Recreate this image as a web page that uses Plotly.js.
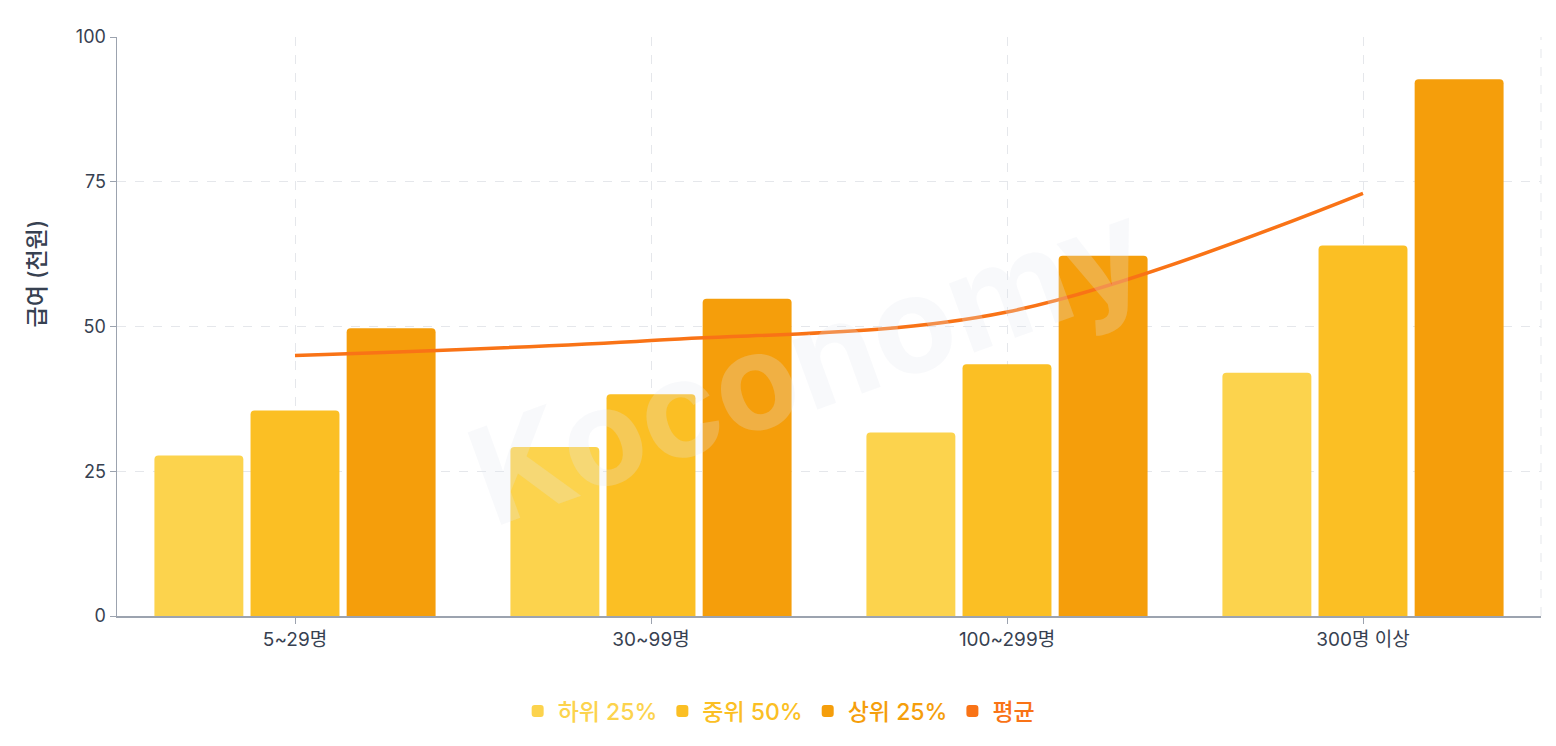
<!DOCTYPE html>
<html>
<head>
<meta charset="utf-8">
<script src="https://cdn.plot.ly/plotly-3.0.1.min.js"></script>
<style>
  html, body { margin: 0; padding: 0; background: #fff; }
  #chart { width: 1556px; height: 746px; }
</style>
</head>
<body>
<div id="chart"></div>
<script>
let chart = document.getElementById("chart");

// 사업체 규모별 급여 (천원)
const categories = ["5~29명", "30~99명", "100~299명", "300명 이상"];
const lower25 = [27.7, 29.2, 31.7, 42.0];
const median50 = [35.5, 38.3, 43.5, 64.0];
const upper25 = [49.7, 54.8, 62.2, 92.7];
const average = [45.0, 47.6, 52.5, 73.0];

const colors = {
    lower: "#FCD34D",
    median: "#FBBF24",
    upper: "#F59E0B",
    avg: "#F97316",
};

const font = "Inter, 'Noto Sans CJK KR', sans-serif";

function legendName(text, color) {
    return '<span style="color:' + color + '">' + text + "</span>";
}

let traces = [
    {
        x: categories,
        y: lower25,
        type: "bar",
        name: legendName("하위 25%", colors.lower),
        marker: { color: colors.lower },
    },
    {
        x: categories,
        y: median50,
        type: "bar",
        name: legendName("중위 50%", colors.median),
        marker: { color: colors.median },
    },
    {
        x: categories,
        y: upper25,
        type: "bar",
        name: legendName("상위 25%", colors.upper),
        marker: { color: colors.upper },
    },
    {
        x: categories,
        y: average,
        type: "scatter",
        mode: "lines",
        legendgroup: "avg",
        showlegend: false,
        line: { color: colors.avg, width: 3.5, shape: "spline", smoothing: 1 },
    },
    // legend entry only: square swatch for the average line
    {
        x: [null],
        y: [null],
        type: "bar",
        xaxis: "x2",
        legendgroup: "avg",
        name: legendName("평균", colors.avg),
        marker: { color: colors.avg },
    },
];

let layout = {
    width: 1556,
    height: 746,
    margin: { l: 117, r: 15, t: 37, b: 130 },
    paper_bgcolor: "#fff",
    plot_bgcolor: "#fff",
    font: { family: font, color: "#374151", size: 14 },
    barmode: "group",
    bargap: 0.19,
    bargroupgap: 0.075,
    barcornerradius: 4,
    showlegend: true,
    legend: {
        orientation: "h",
        x: 0.465,
        xanchor: "center",
        y: -0.164,
        yanchor: "middle",
        font: { size: 23, family: font, weight: 500 },
        itemwidth: 30,
        traceorder: "normal",
    },
    xaxis: {
        type: "category",
        showgrid: true,
        gridcolor: "#e5e7eb",
        griddash: "dash",
        showline: true,
        linecolor: "#9ca3af",
        linewidth: 1.5,
        ticks: "outside",
        ticklen: 6,
        tickcolor: "#9ca3af",
        tickfont: { size: 19, color: "#374151" },
        zeroline: false,
    },
    xaxis2: {
        overlaying: "x",
        visible: false,
    },
    yaxis: {
        range: [0, 100],
        tickvals: [0, 25, 50, 75, 100],
        showgrid: true,
        gridcolor: "#e5e7eb",
        griddash: "dash",
        showline: true,
        linecolor: "#9ca3af",
        linewidth: 1.5,
        ticks: "outside",
        ticklen: 6,
        tickcolor: "#9ca3af",
        tickfont: { size: 18, color: "#374151" },
        zeroline: false,
    },
    shapes: [
        {
            type: "line",
            xref: "paper",
            yref: "paper",
            x0: 1, x1: 1, y0: 0, y1: 1,
            line: { color: "#e5e7eb", width: 1, dash: "dash" },
        },
    ],
    annotations: [
        {
            text: "급여 (천원)",
            xref: "paper",
            yref: "paper",
            x: -0.056,
            y: 0.592,
            xanchor: "center",
            yanchor: "middle",
            textangle: -90,
            showarrow: false,
            font: { size: 23, family: font, color: "#374151", weight: 500 },
        },
        {
            text: "Koconomy",
            xref: "paper",
            yref: "paper",
            x: 0.485,
            y: 0.44,
            showarrow: false,
            textangle: -20,
            font: { size: 135, family: font, color: "rgba(226,232,240,0.25)", weight: 700 },
        },
    ],
};

Plotly.newPlot(chart, traces, layout, { displayModeBar: false, staticPlot: true });
</script>
</body>
</html>
